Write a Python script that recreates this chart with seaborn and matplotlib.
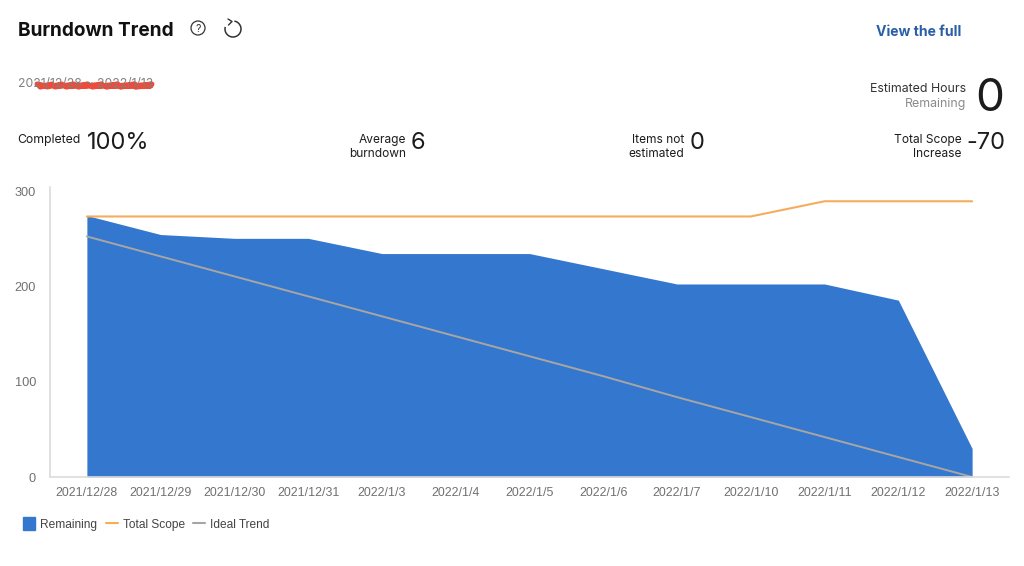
import matplotlib
matplotlib.use("Agg")
import matplotlib.pyplot as plt
from matplotlib.lines import Line2D
from matplotlib.patches import Circle, Patch, Arc
import pandas as pd
import seaborn as sns

# Values
dates = ["2021/12/28", "2021/12/29", "2021/12/30", "2021/12/31", "2022/1/3", "2022/1/4", "2022/1/5",
         "2022/1/6", "2022/1/7", "2022/1/10", "2022/1/11", "2022/1/12", "2022/1/13"]
remaining = [275, 255, 251, 251, 235, 235, 235, 219, 203, 203, 203, 186, 30]
total_scope = [274, 274, 274, 274, 274, 274, 274, 274, 274, 274, 290, 290, 290]
ideal_trend = [253, 232, 211, 190, 169, 148, 127, 106, 84, 63, 42, 21, 0]
y_ticks = [0, 100, 200, 300]

blue = "#3477cf"
orange = "#f5ad5c"
gray = "#a8a6a3"
W, H = 1024, 566

sns.set_theme(style="white")
plt.rcParams["font.family"] = ["Inter", "DejaVu Sans"]

df = pd.DataFrame({"date": dates, "pos": range(len(dates)), "remaining": remaining,
                   "scope": total_scope, "ideal": ideal_trend})

fig = plt.figure(figsize=(W / 100, H / 100), dpi=100)
ax = fig.add_axes([50 / W, 1 - 477 / H, (1009 - 50) / W, (477 - 187) / H])

ax.fill_between(df["pos"], df["remaining"], color=blue, lw=0)
sns.lineplot(data=df, x="pos", y="scope", color=orange, lw=1.5, ax=ax)
sns.lineplot(data=df, x="pos", y="ideal", color=gray, lw=1.4, ax=ax)

ax.set_xlim(-0.5, 12.5)
ax.set_ylim(0, 305)
ax.set_xlabel("")
ax.set_ylabel("")
ax.set_xticks(df["pos"], dates)
ax.set_yticks(y_ticks)
ax.tick_params(axis="x", length=0, pad=7, labelsize=8.9, labelcolor="#707070")
ax.tick_params(axis="y", length=0, pad=10, labelsize=9.2, labelcolor="#707070")
for lbl in ax.get_xticklabels() + ax.get_yticklabels():
    lbl.set_family("Liberation Sans")
sns.despine(ax=ax)
for s in ["left", "bottom"]:
    ax.spines[s].set_color("#dcdcdc")
    ax.spines[s].set_linewidth(1.2)


def txt(x, y, s, size, color="#1c1c1c", ha="left", weight="normal", family="Inter"):
    fig.text(x / W, 1 - y / H, s, fontsize=size, color=color, ha=ha, va="center",
             weight=weight, family=family)


# Header
txt(18, 30.5, "Burndown Trend", 13.7, color="#111111", weight="bold")
txt(961, 32, "View the full", 10.1, color="#2a5ea6", ha="right", weight="bold")

# Date range, scribbled over in the original
txt(18, 84.5, "2021/12/28 ~ 2022/1/13", 8.8, color="#808080")
scribble_x = [37, 44, 40, 52, 47, 62, 55, 74, 66, 88, 78, 102, 92, 118, 106, 135, 120, 152, 135, 151, 110, 70, 38]
scribble_y = [84, 86, 87, 84, 87, 84, 87, 84, 87, 84, 87, 84, 87, 84, 87, 84, 87, 84, 87, 86, 86, 86, 85]
fig.add_artist(Line2D([x / W for x in scribble_x], [1 - y / H for y in scribble_y],
                      color="#ee4b3a", lw=3.6, solid_capstyle="round", solid_joinstyle="round"))

# Stats row
txt(17, 139.5, "Completed", 8.8)
txt(87, 143, "100%", 17)
txt(406, 140, "Average", 8.6, ha="right")
txt(406, 154, "burndown", 8.6, ha="right")
txt(411, 143, "6", 17)
txt(684, 140, "Items not", 8.6, ha="right")
txt(684, 154, "estimated", 8.6, ha="right")
txt(690, 143, "0", 17)
txt(962, 140, "Total Scope", 8.6, ha="right")
txt(962, 154, "Increase", 8.6, ha="right")
txt(1005, 143, "-70", 17, ha="right")
txt(966, 89, "Estimated Hours", 8.9, color="#333333", ha="right")
txt(966, 104, "Remaining", 8.9, color="#8a8a8a", ha="right")
txt(1004, 99, "0", 33, ha="right")

# Help and refresh icons, in a pixel overlay
ov = fig.add_axes([0, 0, 1, 1], facecolor="none")
ov.set_xlim(0, W)
ov.set_ylim(H, 0)
ov.axis("off")
ov.add_patch(Circle((198, 28), 7, fill=False, ec="#333333", lw=0.9))
ov.text(198, 28.5, "?", fontsize=7.5, ha="center", va="center", color="#333333")
ov.add_patch(Arc((233, 29), 16, 16, theta1=-80, theta2=195, ec="#333333", lw=1.1))
ov.plot([228, 232, 228.5], [19, 21.5, 25], color="#333333", lw=1.0)

# Legend
handles = [Patch(fc=blue, ec=blue), Line2D([], [], color=orange, lw=1.5), Line2D([], [], color=gray, lw=1.5)]
leg = fig.legend(handles, ["Remaining", "Total Scope", "Ideal Trend"], loc="center left",
                 bbox_to_anchor=(23 / W, 1 - 524 / H), ncol=3, frameon=False,
                 handlelength=1.0, handleheight=1.2, handletextpad=0.42, columnspacing=0.72,
                 borderpad=0, borderaxespad=0, prop={"family": "Liberation Sans", "size": 8.6})
for t in leg.get_texts():
    t.set_color("#444444")

fig.savefig("out.png", dpi=100, facecolor="white")
